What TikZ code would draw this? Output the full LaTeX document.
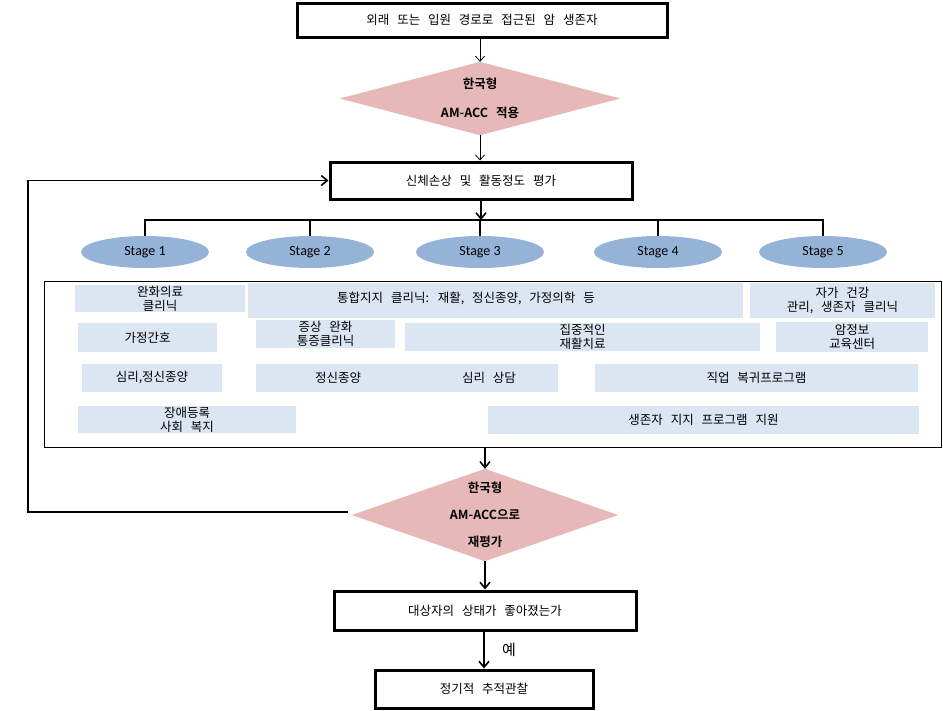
\documentclass[tikz,border=0pt]{standalone}
\usepackage{fontspec}
\setmainfont{Noto Sans CJK KR}[WordSpace=2.8,BoldFont={Noto Sans CJK KR Bold}]
\newfontfamily\stagefont{Carlito}
\usetikzlibrary{shapes.geometric,arrows.meta,backgrounds}
\definecolor{dpink}{HTML}{E6B9B8}
\definecolor{ellblue}{HTML}{95B3D7}
\definecolor{lblue}{HTML}{DCE6F2}
\tikzset{
  mainbox/.style={draw=black, line width=3pt, fill=white, inner sep=0pt, font=\fontsize{12.5}{14}\selectfont},
  dia/.style={rectangle, inner sep=0pt, align=center, font=\fontsize{12.5}{14}\selectfont\bfseries},
  diafill/.style={fill=dpink},
  stg/.style={ellipse, fill=ellblue, inner sep=0pt, minimum width=128pt, minimum height=32pt, font=\stagefont\fontsize{14}{16}\selectfont},
  bbox/.style={fill=lblue, inner sep=0pt, align=center, font=\fontsize{12.5}{14}\selectfont},
  btext/.style={inner sep=0pt, align=center, font=\fontsize{12.5}{14}\selectfont},
  thinarr/.style={line width=0.8pt, -{Straight Barb[length=5pt,width=9pt]}},
  thickarr/.style={line width=1.8pt, -{Straight Barb[length=6pt,width=10pt,line width=1.6pt]}},
  busline/.style={line width=1.8pt},
}
\begin{document}
\begin{tikzpicture}[x=1pt,y=-1pt]
\useasboundingbox (0,0) rectangle (943,710);
% main flow boxes
\node[mainbox, minimum width=370pt, minimum height=34pt] (b1) at (482,20) {외래 또는 입원 경로로 접근된 암 생존자};
\node[dia, minimum width=280pt, minimum height=73pt] (d1) at (480,98.5) {한국형\\[15pt]AM-ACC 적용};
\node[mainbox, minimum width=302pt, minimum height=37pt] (b2) at (481,180.5) {신체손상 및 활동정도 평가};
% stages
\node[stg] (s1) at (145,252) {Stage 1};
\node[stg] (s2) at (310,252) {Stage 2};
\node[stg] (s3) at (480,252) {Stage 3};
\node[stg] (s4) at (658,252) {Stage 4};
\node[stg] (s5) at (823,252) {Stage 5};
\coordinate (bus) at (481,220);
% container
\node[draw=black, line width=0.8pt, minimum width=897pt, minimum height=166pt, inner sep=0pt] (cont) at (492.5,364) {};
% blue boxes
\node[bbox, minimum width=170pt, minimum height=27pt] (x1) at (160,298.5) {완화의료\\클리닉};
\node[bbox, minimum width=495pt, minimum height=35pt] (x2) at (495.5,300.5) {};
\node[btext] (x2t) at (466,298.5) {통합지지 클리닉: 재활, 정신종양, 가정의학 등};
\node[bbox, minimum width=185pt, minimum height=35pt] (x3) at (842.5,300.5) {자가 건강\\관리, 생존자 클리닉};
\node[bbox, minimum width=139pt, minimum height=29pt] (x4) at (147.5,337.5) {가정간호};
\node[bbox, minimum width=139pt, minimum height=28pt] (x5) at (325.5,334) {증상 완화\\통증클리닉};
\node[bbox, minimum width=355pt, minimum height=28pt] (x6) at (582.5,337) {집중적인\\재활치료};
\node[bbox, minimum width=152pt, minimum height=30pt] (x7) at (852,337) {암정보\\교육센터};
\node[bbox, minimum width=140pt, minimum height=28pt] (x8) at (152,378) {심리,정신종양};
\node[bbox, minimum width=302pt, minimum height=28pt] (x9) at (407,378) {};
\node[btext] (x9a) at (338,378) {정신종양};
\node[btext] (x9b) at (489,378) {심리 상담};
\node[bbox, minimum width=323pt, minimum height=28pt] (x10) at (756.5,378) {직업 복귀프로그램};
\node[bbox, minimum width=218pt, minimum height=27pt] (x11) at (187,419.5) {장애등록\\사회 복지};
\node[bbox, minimum width=431pt, minimum height=28pt] (x12) at (703.5,420) {생존자 지지 프로그램 지원};
% lower flow
\node[dia, minimum width=266pt, minimum height=92pt] (d2) at (485,515) {한국형\\[13pt]AM-ACC으로\\[13pt]재평가};
\node[mainbox, minimum width=302pt, minimum height=39pt] (b3) at (485,610.5) {대상자의 상태가 좋아졌는가};
\node[mainbox, minimum width=218pt, minimum height=38pt] (b4) at (484,689) {정기적 추적관찰};
\coordinate (lc) at (28,512);
% diamond shapes
\begin{scope}[on background layer]
\fill[diafill] (d1.north) -- (d1.east) -- (d1.south) -- (d1.west) -- cycle;
\fill[diafill] (d2.north) -- (d2.east) -- (d2.south) -- (d2.west) -- cycle;
\end{scope}
% connectors
\draw[thinarr] (b1.south -| d1.north) -- (d1.north);
\draw[thinarr] (d1.south) -- (d1.south |- b2.north);
\draw[thickarr] (b2.south) -- (b2.south |- bus);
\draw[busline] (s1.north) -- (s1.north |- bus) -- (s5.north |- bus) -- (s5.north);
\draw[busline] (s2.north) -- (s2.north |- bus);
\draw[busline] (s3.north) -- (s3.north |- bus);
\draw[busline] (s4.north) -- (s4.north |- bus);
\draw[thickarr] (cont.south -| d2.north) -- (d2.north);
\draw[thickarr] (d2.south) -- (d2.south |- b3.north);
\draw[thickarr] (b3.south -| b4.north) -- node[right=14pt, font=\fontsize{15}{17}\selectfont] {예} (b4.north);
\draw[thickarr] (d2.west) ++(-4,-3) -- (lc) |- (b2.west);
\end{tikzpicture}
\end{document}
